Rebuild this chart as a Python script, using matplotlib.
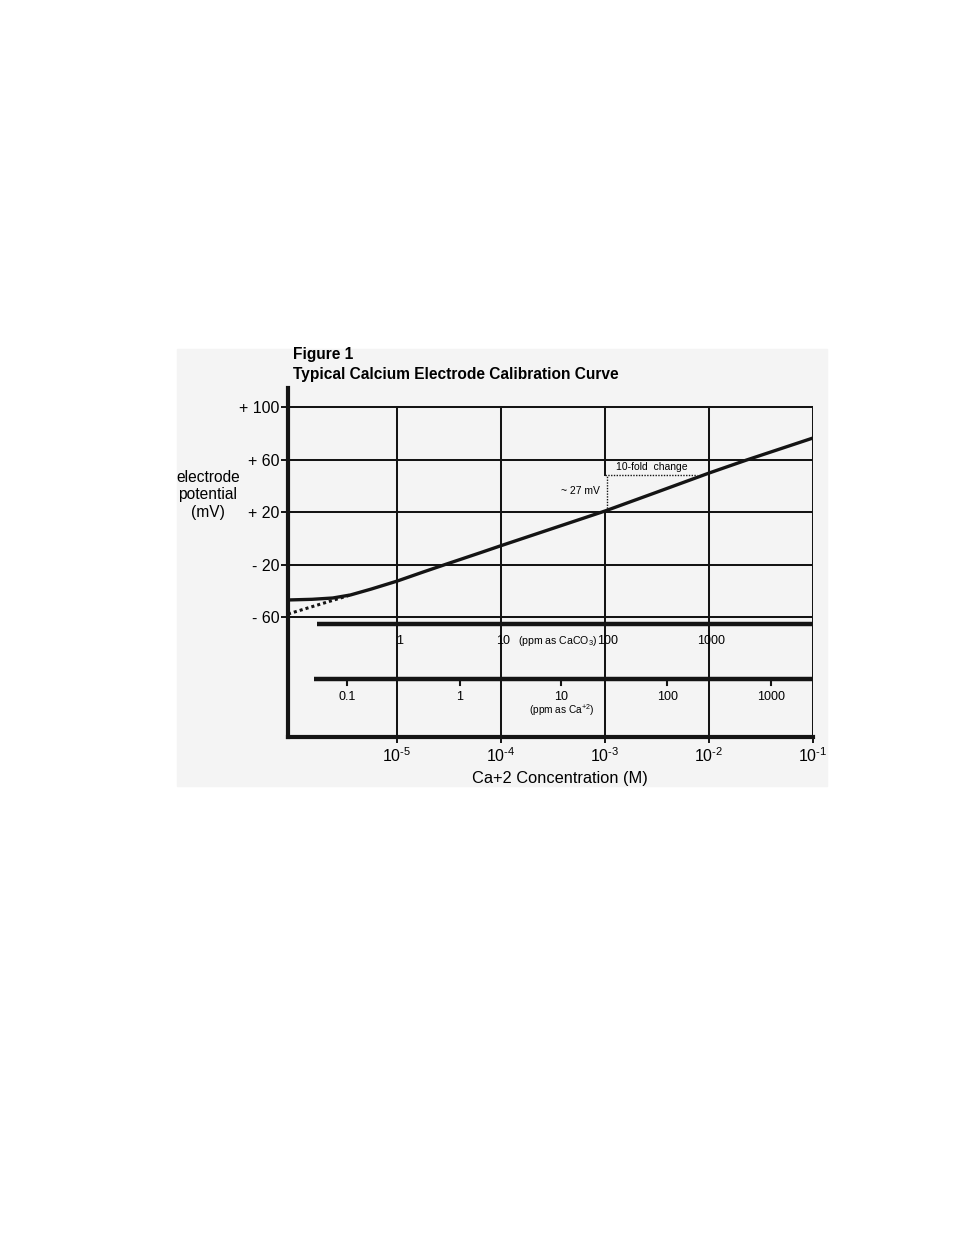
import matplotlib
matplotlib.use("Agg")
import numpy as np
import matplotlib.pyplot as plt
from matplotlib.patches import Rectangle

plt.rcParams["font.family"] = ["Liberation Sans", "DejaVu Sans"]
plt.rcParams["mathtext.fontset"] = "custom"
plt.rcParams["mathtext.rm"] = "Liberation Sans"
plt.rcParams["mathtext.it"] = "Liberation Sans:italic"

# calibration curve (x = log10 [Ca+2] in M, y = mV)
log_conc = [-6.05, -5.82, -5.62, -5.45, -5.25, -5.0, -4.75, -4.52, -4.2,
            -4.0, -3.5, -3.0, -2.5, -2.0, -1.64, -1.0]
potential = [-47, -46.5, -45.5, -43.2, -38.7, -32.6, -25.7, -19.5, -11.0,
             -5.6, 7.6, 20.8, 35.2, 49.7, 59.6, 76.4]

# extrapolated (dotted) low-end part
dot_conc = [-6.05, -5.45]
dot_potential = [-57.7, -43.2]

# axis ticks
y_ticks = [-60, -20, 20, 60, 100]
y_labels = ["- 60", "- 20", "+ 20", "+ 60", "+ 100"]
decades = [-5, -4, -3, -2, -1]

# secondary scales
caco3_labels = ["1", "10", "100", "1000"]
caco3_pos = [-5, -4, -3, -2]
ca_labels = ["0.1", "1", "10", "100", "1000"]
ca_pos = [-5.48, -4.4, -3.42, -2.4, -1.4]

# 10-fold annotation
step_x = [-3.0, -2.12]
step_y = [20.8, 48.2]

XMIN, XMAX = -6.05, -1.0
YMIN, YMAX = -151.4, 114.5
CACO3_Y = -65.3
CA_Y = -107.2
INK = "#141414"

W, H = 954, 1235
fig = plt.figure(figsize=(W / 100, H / 100), dpi=100)
fig.patches.append(Rectangle((177 / W, 1 - 786 / H), 650 / W, 437 / H,
                             transform=fig.transFigure, color="#f4f4f4",
                             zorder=-5))

ax = fig.add_axes([288 / W, 1 - 737 / H, (813 - 288) / W, (737 - 388) / H])
ax.set_zorder(2)
ax.patch.set_alpha(0)
ax.set_xlim(XMIN, XMAX)
ax.set_ylim(YMIN, YMAX)
for side in ["top", "right"]:
    ax.spines[side].set_visible(False)
for side in ["left", "bottom"]:
    ax.spines[side].set_linewidth(3)
    ax.spines[side].set_color(INK)

# grid (the 10^-3 line leaves room for the dotted step)
for v in y_ticks:
    ax.plot([XMIN, XMAX], [v, v], color=INK, lw=1.45, zorder=2)
for d in decades:
    if d == step_x[0]:
        ax.plot([d, d], [YMIN, step_y[0]], color=INK, lw=1.45, zorder=2)
        ax.plot([d, d], [step_y[1], 100], color=INK, lw=1.45, zorder=2)
    else:
        ax.plot([d, d], [YMIN, 100], color=INK, lw=1.45, zorder=2)

ax.set_yticks(y_ticks)
ax.set_yticklabels(y_labels, fontsize=11.5)
ax.set_xticks(decades)
ax.set_xticklabels([f"$10^{{\\text{{-{-d}}}}}$" for d in decades],
                   fontsize=11.5)
ax.tick_params(axis="y", length=5, width=1.4, pad=1, color=INK)
ax.tick_params(axis="x", length=4, width=1.4, pad=3, color=INK)

# curve
ax.plot(log_conc, potential, color=INK, lw=2.4, zorder=4)
ax.plot(dot_conc, dot_potential, color=INK, lw=2.2, ls=(0, (1, 1)),
        zorder=4)

# annotation
ax.plot([step_x[0] + 0.02, step_x[0] + 0.02], step_y, color=INK, lw=1,
        ls=(0, (1, 1)), zorder=3)
ax.plot(step_x, [step_y[1], step_y[1]], color=INK, lw=1, ls=(0, (1, 1)),
        zorder=3)
ax.text(-2.55, 54.3, "10-fold  change", fontsize=7.5, ha="center", va="center")
ax.text(-3.05, 36, "~ 27 mV", fontsize=7.5, ha="right", va="center")

# ppm as CaCO3 scale
ax.plot([-5.77, XMAX], [CACO3_Y, CACO3_Y], color=INK, lw=3.2,
        solid_capstyle="butt", zorder=3)
for p, lab in zip(caco3_pos, caco3_labels):
    ax.text(p + 0.02, -78.3, lab, fontsize=9, ha="center", va="center")
ax.text(-3.46, -78.3, "(ppm as CaCO$_3$)", fontsize=7.6, ha="center",
        va="center")

# ppm as Ca+2 scale
ax.plot([-5.80, XMAX], [CA_Y, CA_Y], color=INK, lw=3.2,
        solid_capstyle="butt", zorder=3)
for p, lab in zip(ca_pos, ca_labels):
    ax.plot([p, p], [CA_Y, CA_Y - 4.6], color=INK, lw=1.5, zorder=3)
    ax.text(p, -121, lab, fontsize=9, ha="center", va="center")
ax.text(ca_pos[2], -131, "(ppm as Ca$^{+2}$)", fontsize=7.3, ha="center",
        va="center")

# titles and labels
fig.text(293 / W, 1 - 355 / H, "Figure 1", fontsize=11.2,
         fontweight="bold", va="center")
fig.text(293 / W, 1 - 374 / H, "Typical Calcium Electrode Calibration Curve",
         fontsize=11.2, fontweight="bold", va="center")
fig.text(208 / W, 1 - 495 / H, "electrode\npotential\n(mV)", fontsize=11.2,
         ha="center", va="center", linespacing=1.25)
fig.text(560 / W, 1 - 778 / H, "Ca+2 Concentration (M)", fontsize=11.8,
         ha="center", va="center")

fig.savefig("out.png", dpi=100)
